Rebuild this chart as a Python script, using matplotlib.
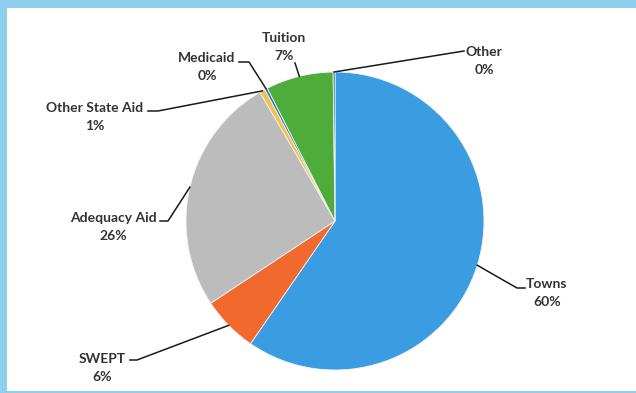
import numpy as np
import matplotlib
matplotlib.use("Agg")
import matplotlib.pyplot as plt
from matplotlib.patches import Rectangle

plt.rcParams["font.family"] = ["Lato", "DejaVu Sans"]

# ---------------------------------------------------------------------------
# data (clockwise from 12 o'clock)
# ---------------------------------------------------------------------------
labels = ["Towns", "SWEPT", "Adequacy Aid", "Other State Aid", "Medicaid", "Tuition", "Other"]
shares = [59.6, 6.1, 25.9, 0.6, 0.3, 7.3, 0.2]
colors = ["#3b9de1", "#f2692e", "#bcbcbc", "#f3c24a", "#2b7bbd", "#4eac3b", "#1f5f9e"]

# label text centre (image px) and leader points before the pie edge (image px)
label_pos = {
    "Towns":           (547, 293),
    "SWEPT":           (102, 368),
    "Adequacy Aid":    (113, 227),
    "Other State Aid": (95, 117),
    "Medicaid":        (207, 67),
    "Tuition":         (284, 47),
    "Other":           (484, 61),
}
leader_pts = {
    "Towns":           [(525, 288), (517, 288)],
    "SWEPT":           [(130, 360), (137, 360)],
    "Adequacy Aid":    [(160, 221), (168, 221)],
    "Other State Aid": [(148, 111), (158, 111)],
    "Medicaid":        [(239, 62), (249, 62)],
    "Tuition":         [(295, 63)],
    "Other":           [(464, 51)],
}

W, H = 636, 393
cx, cy, r = 335, H - 221, 149

fig = plt.figure(figsize=(W / 100, H / 100), dpi=100)
fig.patch.set_facecolor("#8fcfee")
ax = fig.add_axes([0, 0, 1, 1])

# white chart area inside the blue frame
ax.add_patch(Rectangle((7, 2), W - 7, H - 10, facecolor="white", edgecolor="none", zorder=0))

ax.pie(shares, colors=colors, startangle=90, counterclock=False,
       center=(cx, cy), radius=r, frame=True,
       wedgeprops=dict(edgecolor="#f4f4f4", linewidth=0.6))
ax.set_xlim(0, W)
ax.set_ylim(0, H)
ax.set_aspect("equal")
ax.axis("off")

total = sum(shares)
start = 0.0
for lab, val in zip(labels, shares):
    mid = (start + val / 2) / total * 360.0
    start += val
    ex = cx + r * np.sin(np.radians(mid))
    ey = cy + r * np.cos(np.radians(mid))
    pts = [(x, H - y) for x, y in leader_pts[lab]] + [(ex, ey)]
    xs, ys = zip(*pts)
    ax.plot(xs, ys, color="#1a1a1a", lw=1.1, zorder=5)
    tx, ty = label_pos[lab]
    ax.text(tx, H - ty, f"{lab}\n{val:.0f}%", ha="center", va="center",
            fontsize=10, fontweight="bold", color="#333333", linespacing=1.6, zorder=6)

fig.savefig("out.png", dpi=100)
